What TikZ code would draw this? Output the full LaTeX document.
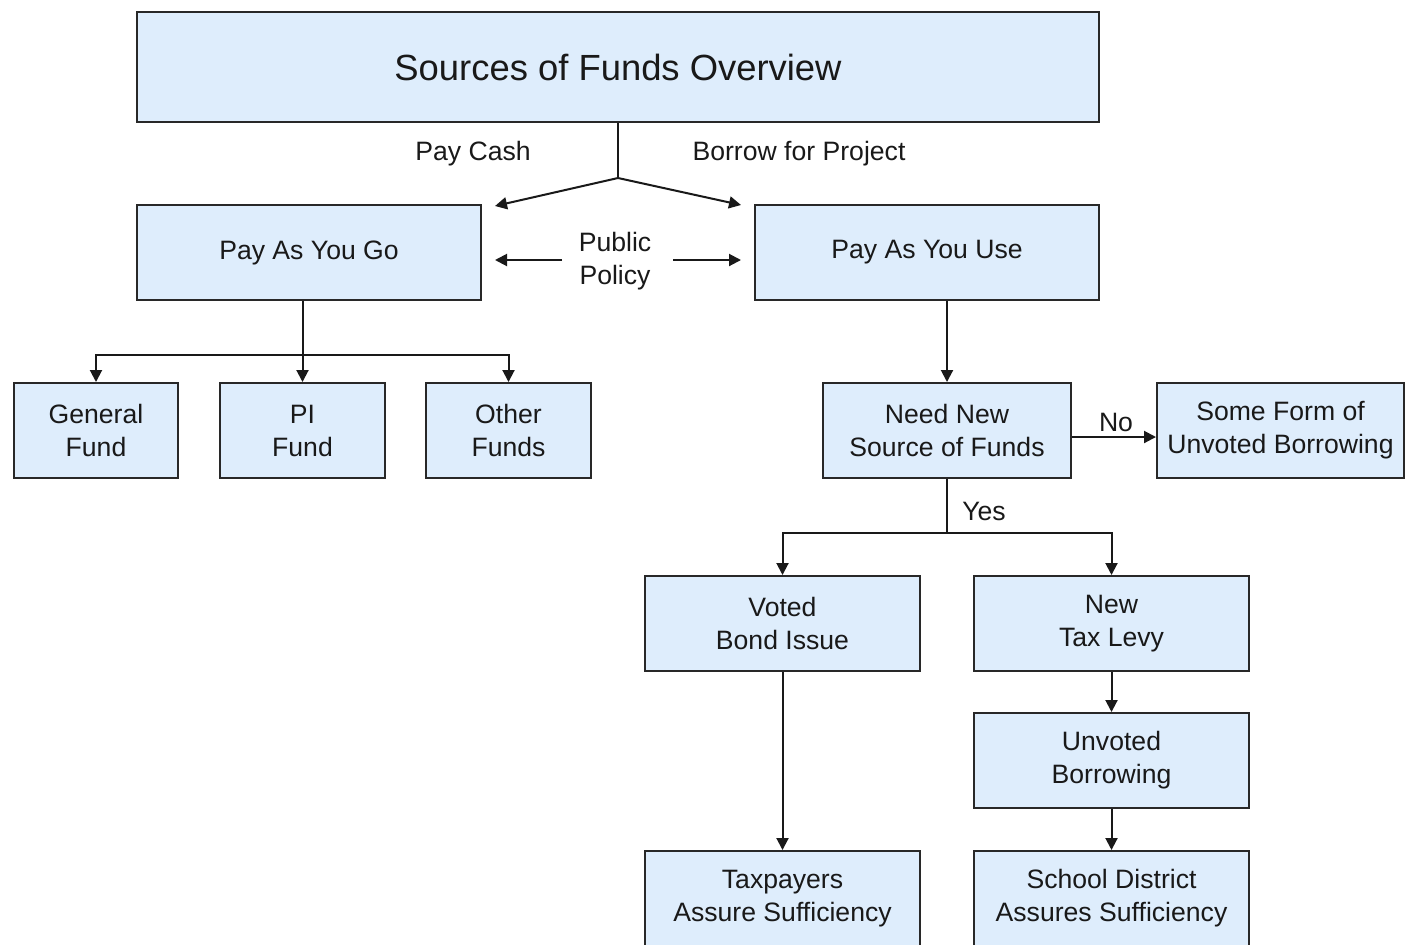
\documentclass[tikz,border=0pt]{standalone}
\usepackage{fontspec}
\setmainfont{Liberation Sans}
\usetikzlibrary{arrows.meta}
\definecolor{boxfill}{RGB}{222,237,252}
\definecolor{boxline}{RGB}{40,40,40}
\begin{document}
\begin{tikzpicture}[x=0.5pt,y=-0.5pt,
  box/.style={draw=boxline,fill=boxfill,line width=1pt,align=center,inner sep=0pt,
    font=\fontsize{13.3pt}{16.5pt}\selectfont,text=black!90},
  lbl/.style={align=center,inner sep=0pt,font=\fontsize{13.3pt}{16.5pt}\selectfont,text=black!90},
  conn/.style={draw=black!90,line width=1pt},
  arr/.style={conn,-{Triangle[length=6pt,width=6pt]}}]
\useasboundingbox (0,0) rectangle (1406,944);
\clip (0,0) rectangle (1406,944);
% boxes
\node[box,minimum width=481pt,minimum height=55pt,font=\fontsize{18.2pt}{22pt}\selectfont] (title) at (618,67) {Sources of Funds Overview};
\node[box,minimum width=172pt,minimum height=47.5pt] (pg) at (309,252.5) {Pay As You Go};
\node[box,minimum width=172pt,minimum height=47.5pt] (pu) at (927,252.5) {Pay As You Use};
\node[box,minimum width=82pt,minimum height=47.5pt] (gf) at (96,430.5) {General\\Fund};
\node[box,minimum width=82.5pt,minimum height=47.5pt] (pi) at (302.5,430.5) {PI\\Fund};
\node[box,minimum width=82.5pt,minimum height=47.5pt] (of) at (508.5,430.5) {Other\\Funds};
\node[box,minimum width=124pt,minimum height=47.5pt] (nn) at (947,430.5) {Need New\\Source of Funds};
\node[box,minimum width=123.5pt,minimum height=47.5pt] (sf) at (1280.5,430.5) {Some Form of\\Unvoted Borrowing};
\node[box,minimum width=137.5pt,minimum height=47.5pt] (vb) at (782.5,623.5) {Voted\\Bond Issue};
\node[box,minimum width=137.5pt,minimum height=47.5pt] (tl) at (1111.5,623.5) {New\\Tax Levy};
\node[box,minimum width=137.5pt,minimum height=47.5pt] (ub) at (1111.5,760.5) {Unvoted\\Borrowing};
\node[box,minimum width=137.5pt,minimum height=47.5pt] (tp) at (782.5,898.5) {Taxpayers\\Assure Sufficiency};
\node[box,minimum width=137.5pt,minimum height=47.5pt] (sd) at (1111.5,898.5) {School District\\Assures Sufficiency};
% labels
\node[lbl] (paycash) at (473,154) {Pay Cash};
\node[lbl] (borrow) at (799,154) {Borrow for Project};
\node[lbl] (pp) at (615,261) {Public\\Policy};
\node[lbl] (no) at (1116,422) {No};
\node[lbl] (yes) at (984,511) {Yes};
% coordinates
\coordinate (split) at (618,178);
\coordinate (pcend) at (495,206);
\coordinate (bpend) at (741,205);
\coordinate (ppl0) at (562,260);
\coordinate (ppl1) at (495,260);
\coordinate (ppr0) at (673,260);
\coordinate (ppr1) at (741,260);
\coordinate (pgbus) at (302.5,355);
\coordinate (nnbus) at (947,533);
% connectors
\draw[conn] (title.south) -- (split);
\draw[arr] (split) -- (pcend);
\draw[arr] (split) -- (bpend);
\draw[arr] (ppl0) -- (ppl1);
\draw[arr] (ppr0) -- (ppr1);
\draw[conn] (pg.south -| pi.north) -- (pgbus);
\draw[arr] (pgbus) -- (pi.north);
\draw[arr] (pgbus) -| (gf.north);
\draw[arr] (pgbus) -| (of.north);
\draw[arr] (pu.south -| nn.north) -- (nn.north);
\draw[arr] (nn.east |- 0,437) -- (sf.west |- 0,437);
\draw[conn] (nn.south) -- (nnbus);
\draw[arr] (nnbus) -| (vb.north);
\draw[arr] (nnbus) -| (tl.north);
\draw[arr] (vb.south) -- (tp.north);
\draw[arr] (tl.south) -- (ub.north);
\draw[arr] (ub.south) -- (sd.north);
\end{tikzpicture}
\end{document}
